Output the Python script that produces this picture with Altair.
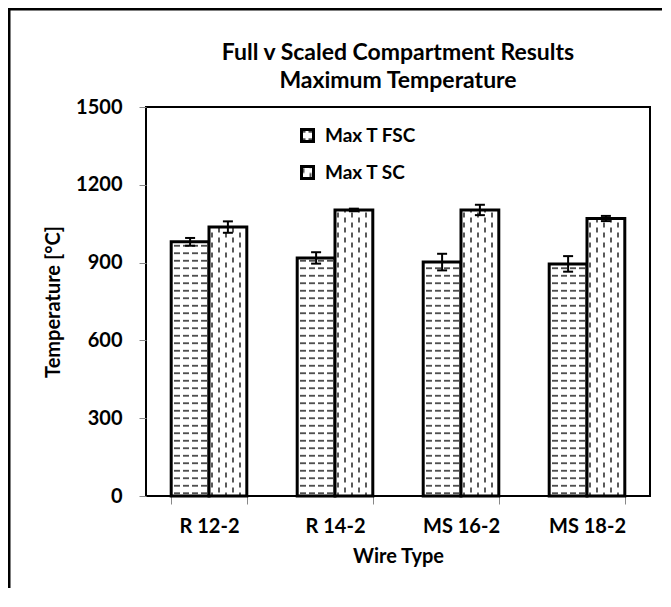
import altair as alt
import pandas as pd

# ---- data ----
wire_types = ["R 12-2", "R 14-2", "MS 16-2", "MS 18-2"]
series = ["Max T FSC", "Max T SC"]
fsc_vals = [980, 918, 902, 895]
fsc_err = [15, 22, 32, 30]
sc_vals = [1037, 1103, 1103, 1070]
sc_err = [22, 5, 20, 10]
y_ticks = [0, 300, 600, 900, 1200, 1500]
title_lines = ["Full  v Scaled Compartment Results", "Maximum Temperature"]

rows = []
for i, w in enumerate(wire_types):
    rows.append(dict(wire=w, series=series[0], value=fsc_vals[i], err=fsc_err[i]))
    rows.append(dict(wire=w, series=series[1], value=sc_vals[i], err=sc_err[i]))
df = pd.DataFrame(rows)
df["lo"] = df["value"] - df["err"]
df["hi"] = df["value"] + df["err"]

FONT = "Lato"
LBL = dict(labelFont=FONT, labelFontSize=20, labelFontWeight="bold", labelColor="black",
           titleFont=FONT, titleFontSize=20, titleFontWeight="bold", titleColor="black")

x_enc = alt.X(
    "wire:N", sort=wire_types, title="Wire Type",
    scale=alt.Scale(paddingInner=0.4, paddingOuter=0.2),
    axis=alt.Axis(labelAngle=0, tickBand="extent", tickSize=8, tickColor="#888888",
                  labelPadding=12, titlePadding=10, domain=False, **LBL),
)
xo_enc = alt.XOffset("series:N", sort=series,
                     scale=alt.Scale(paddingInner=0, paddingOuter=0))
y_scale = alt.Scale(domain=[0, 1500], nice=False, zero=True)

base = alt.Chart(df)

bars = base.mark_bar(stroke="black", strokeWidth=3).encode(
    x=x_enc,
    xOffset=xo_enc,
    y=alt.Y("value:Q", scale=y_scale, title="Temperature [°C]",
            axis=alt.Axis(values=y_ticks, format="d", tickSize=7, tickColor="#888888",
                          labelPadding=17, titlePadding=12, domain=False, grid=False, **LBL)),
    fill=alt.Fill("series:N", sort=series,
                  scale=alt.Scale(domain=series, range=["url(#pFSC)", "url(#pSC)"]),
                  legend=alt.Legend(orient="none", legendX=152, legendY=19, title=None,
                                    symbolType="square", symbolSize=144,
                                    symbolStrokeColor="black", symbolStrokeWidth=3,
                                    symbolOpacity=1,
                                    labelFont=FONT, labelFontSize=19, labelFontWeight="bold",
                                    labelColor="black", labelOffset=8, rowPadding=12)),
)

err_rules = base.mark_rule(color="black", strokeWidth=2).encode(
    x=alt.X("wire:N", sort=wire_types), xOffset=alt.XOffset("series:N", sort=series),
    y=alt.Y("lo:Q", scale=y_scale), y2="hi:Q",
)
cap_lo = base.mark_tick(color="black", thickness=2, size=10, opacity=1).encode(
    x=alt.X("wire:N", sort=wire_types), xOffset=alt.XOffset("series:N", sort=series),
    y=alt.Y("lo:Q", scale=y_scale),
)
cap_hi = base.mark_tick(color="black", thickness=2, size=10, opacity=1).encode(
    x=alt.X("wire:N", sort=wire_types), xOffset=alt.XOffset("series:N", sort=series),
    y=alt.Y("hi:Q", scale=y_scale),
)

frame_df = pd.DataFrame({"k": [0]})
frame_left = alt.Chart(frame_df).mark_rule(color="black", strokeWidth=3).encode(
    x=alt.value(-137), y=alt.value(-99), y2=alt.value(600))
frame_top = alt.Chart(frame_df).mark_rule(color="black", strokeWidth=3).encode(
    x=alt.value(-139), x2=alt.value(600), y=alt.value(-98))

chart = alt.layer(bars, err_rules, cap_lo, cap_hi, frame_left, frame_top).properties(
    width=504, height=389,
    title=alt.TitleParams(text=title_lines, font=FONT, fontSize=23, fontWeight="bold",
                          anchor="middle", frame="group", offset=14, lineHeight=28,
                          dy=100, color="black"),
    autosize=alt.AutoSizeParams(type="none"),
    padding={"left": 138, "top": 99, "right": 12, "bottom": 92},
    background="white",
).configure_view(
    stroke="black", strokeWidth=2
)

chart.save("out.html", embed_options={"renderer": "svg", "actions": False})

# hatch patterns used as bar fills (style only)
defs = (
    '<svg width="0" height="0" style="position:absolute;left:0;top:0" aria-hidden="true"><defs>'
    '<pattern id="pFSC" patternUnits="userSpaceOnUse" width="9" height="7.5">'
    '<rect width="9" height="7.5" fill="white"/>'
    '<line x1="1" y1="3.75" x2="7" y2="3.75" stroke="black" stroke-width="1.3"/>'
    '</pattern>'
    '<pattern id="pSC" patternUnits="userSpaceOnUse" width="14" height="10">'
    '<rect width="14" height="10" fill="white"/>'
    '<line x1="3" y1="0.5" x2="3" y2="5.5" stroke="black" stroke-width="1.3"/>'
    '<line x1="10" y1="5.5" x2="10" y2="10.5" stroke="black" stroke-width="1.3"/>'
    '<line x1="10" y1="-0.5" x2="10" y2="0.5" stroke="black" stroke-width="1.3"/>'
    '</pattern>'
    '</defs></svg>'
)
with open("out.html", encoding="utf-8") as f:
    html = f.read()
if "<body>" in html:
    html = html.replace("<body>", "<body>" + defs, 1)
else:
    html = html.replace("</body>", defs + "</body>", 1)
with open("out.html", "w", encoding="utf-8") as f:
    f.write(html)
